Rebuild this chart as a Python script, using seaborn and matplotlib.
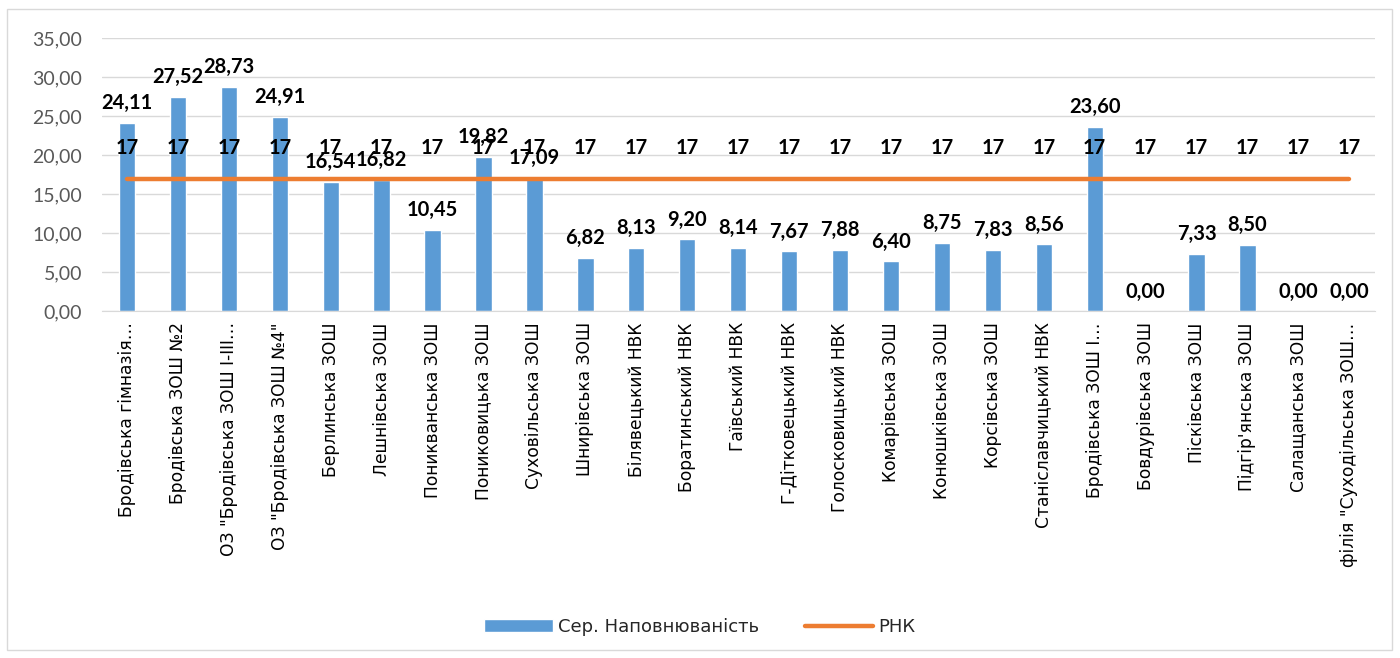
import matplotlib
matplotlib.use("Agg")
import matplotlib.pyplot as plt
import seaborn as sns
import pandas as pd
from matplotlib.patches import Rectangle
from matplotlib.lines import Line2D
from matplotlib.patches import Patch

# Schools (x categories)
schools = [
    "Бродівська гімназія…",
    "Бродівська ЗОШ №2",
    "ОЗ \"Бродівська ЗОШ І-ІІІ…",
    "ОЗ \"Бродівська ЗОШ №4\"",
    "Берлинська ЗОШ",
    "Лешнівська ЗОШ",
    "Поникванська ЗОШ",
    "Пониковицька ЗОШ",
    "Суховільська ЗОШ",
    "Шнирівська ЗОШ",
    "Білявецький НВК",
    "Боратинський НВК",
    "Гаївський НВК",
    "Г-Дітковецький НВК",
    "Голосковицький НВК",
    "Комарівська ЗОШ",
    "Конюшківська ЗОШ",
    "Корсівська ЗОШ",
    "Станіславчицький НВК",
    "Бродівська ЗОШ І…",
    "Бовдурівська ЗОШ",
    "Пісківська ЗОШ",
    "Підгір'янська ЗОШ",
    "Салащанська ЗОШ",
    "філія \"Суходільська ЗОШ…",
]

# Average class fill (bars)
avg_fill = [24.11, 27.52, 28.73, 24.91, 16.54, 16.82, 10.45, 19.82, 17.09,
            6.82, 8.13, 9.20, 8.14, 7.67, 7.88, 6.40, 8.75, 7.83, 8.56,
            23.60, 0.00, 7.33, 8.50, 0.00, 0.00]

# Norm line (РНК)
rnk = [17] * len(schools)

bar_color = "#5B9BD5"
line_color = "#ED7D31"

df = pd.DataFrame({"school": schools, "fill": avg_fill, "rnk": rnk})
df["pos"] = range(len(df))

sns.set_style("white")
plt.rcParams["font.family"] = ["DejaVu Sans"]

fig = plt.figure(figsize=(14, 6.58), dpi=100)
ax = fig.add_axes([0.0725, 0.527, 0.9095, 0.415])

sns.barplot(data=df, x="school", y="fill", color=bar_color, width=0.32,
            saturation=1, ax=ax)
ax.plot(df["pos"], df["rnk"], color=line_color, lw=3.2,
        solid_capstyle="round", zorder=3)

# bar value labels
bar_labels = [f"{v:.2f}".replace(".", ",") for v in avg_fill]
ax.bar_label(ax.containers[0], labels=bar_labels, padding=7,
             fontsize=14.5, fontweight="bold", family=["Lato", "DejaVu Sans"],
             color="black", zorder=5)

# line value labels
for p, v in zip(df["pos"], df["rnk"]):
    ax.annotate(f"{v}", (p, v), xytext=(0, 15), textcoords="offset points",
                ha="center", va="bottom", fontsize=14.5, fontweight="bold",
                family=["Lato", "DejaVu Sans"], color="black", zorder=5)

ax.set_xlim(-0.5, len(schools) - 0.5)
ax.set_ylim(0, 35)
ax.set_yticks(range(0, 36, 5))
ax.set_yticklabels([f"{t:.2f}".replace(".", ",") for t in range(0, 36, 5)],
                   fontsize=14, color="#595959", family=["Lato", "DejaVu Sans"])
ax.set_xticks(df["pos"])
ax.set_xticklabels(schools, rotation=90, fontsize=12.3, color="black")
ax.tick_params(axis="both", length=0, pad=8)
ax.tick_params(axis="y", pad=14)
ax.set_xlabel("")
ax.set_ylabel("")
ax.yaxis.grid(True, color="#D9D9D9", lw=1)
ax.set_axisbelow(True)
for s in ["top", "right", "left"]:
    ax.spines[s].set_visible(False)
ax.spines["bottom"].set_color("#D9D9D9")

handles = [Patch(facecolor=bar_color, label="Сер. Наповнюваність"),
           Line2D([0], [0], color=line_color, lw=3.2, label="РНК",
                  solid_capstyle="round")]
fig.legend(handles=handles, loc="center", bbox_to_anchor=(0.5, 0.047), ncol=2,
           frameon=False, fontsize=13, columnspacing=2.5, handlelength=3.8,
           handletextpad=0.3)

fig.patches.append(Rectangle((0.005, 0.012), 0.989, 0.974, transform=fig.transFigure,
                             fill=False, edgecolor="#D9D9D9", lw=1))

fig.savefig("out.png", dpi=100)
